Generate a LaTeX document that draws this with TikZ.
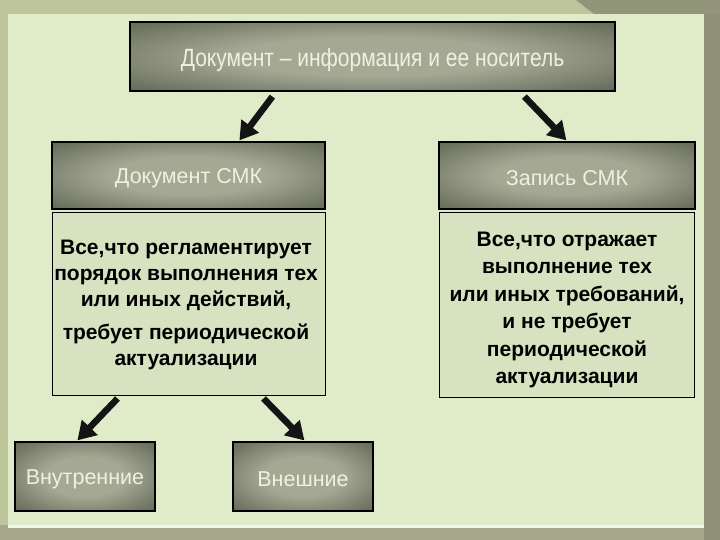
\documentclass[tikz,border=0pt]{standalone}
\usepackage{fontspec}
\setmainfont{Liberation Sans}
\usetikzlibrary{arrows.meta,calc}
\definecolor{panel}{HTML}{DFEBC9}
\definecolor{framekhaki}{HTML}{BEC59A}
\definecolor{framebottom}{HTML}{A6A78B}
\definecolor{frameright}{HTML}{8E9078}
\definecolor{boxin}{HTML}{A5A994}
\definecolor{boxmid}{HTML}{6E7361}
\definecolor{boxout}{HTML}{3F4438}
\definecolor{boxtext}{HTML}{EEF1E2}
\definecolor{textfill}{HTML}{D7E2C1}
\pgfdeclareradialshading{boxshade}{\pgfpoint{0bp}{0bp}}{color(0bp)=(boxin); color(14bp)=(boxin); color(32bp)=(boxmid); color(50bp)=(boxout); color(60bp)=(boxout)}
\tikzset{
  darkbox/.style={draw=black, line width=1.2pt, shading=boxshade,
    text=boxtext, inner sep=0pt, font=\fontsize{21.5}{24}\selectfont},
  boxlabel/.style={text=boxtext, inner sep=0pt, font=\fontsize{21.5}{24}\selectfont},
  textbox/.style={draw=black, line width=1pt, fill=textfill, inner sep=0pt},
  bodytext/.style={align=center, font=\bfseries\fontsize{21}{26}\selectfont, text=black, inner sep=0pt},
  bigarrow/.style={draw=black!92, line width=6.5pt, -{Triangle[length=18pt,width=21pt]}}
}
\begin{document}
\begin{tikzpicture}[x=1pt,y=-1pt]
\useasboundingbox (0,0) rectangle (720,540);
% frame
\fill[framekhaki] (0,0) rectangle (720,540);
\fill[framebottom] (0,525) rectangle (720,540);
\fill[frameright] (704,10) rectangle (720,540);
\fill[frameright!90!framekhaki] (576,0) -- (720,0) -- (720,14) -- (594,14) -- cycle;
\fill[panel] (8,14) rectangle (704,525);
\fill[white!60!panel] (8,525) rectangle (704,528);
% boxes
\node[darkbox, minimum width=485pt, minimum height=69pt] (top) at (372.5,56.5) {};
\node[boxlabel] (toplbl) at (372.5,60)
  {\scalebox{0.84}[1]{\fontsize{25}{28}\selectfont Документ -- информация и ее носитель}};
\node[darkbox, minimum width=273pt, minimum height=67pt] (doc) at (188.5,175.5) {};
\node[boxlabel] (doclbl) at (188.5,178.5) {Документ СМК};
\node[darkbox, minimum width=256pt, minimum height=67pt] (rec) at (567,175.5) {};
\node[boxlabel] (reclbl) at (567,178.5) {Запись СМК};
\node[textbox, minimum width=273pt, minimum height=182pt] (doct) at (188.5,304) {};
\node[textbox, minimum width=255pt, minimum height=184pt] (rect) at (567,305) {};
\node[bodytext] (doctxt) at (186,305) {Все,что регламентирует\\порядок выполнения тех\\или иных действий,\\[7pt]требует периодической\\актуализации};
\node[bodytext, font=\bfseries\fontsize{21}{27.5}\selectfont] (rectxt) at (567,310) {Все,что отражает\\выполнение тех\\или иных требований,\\и не требует\\периодической\\актуализации};
\node[darkbox, minimum width=140pt, minimum height=69pt] (inn) at (85,476.5) {};
\node[boxlabel] (innlbl) at (85,479.5) {Внутренние};
\node[darkbox, minimum width=140pt, minimum height=69pt] (ext) at (303,476.5) {};
\node[boxlabel] (extlbl) at (303,479.5) {Внешние};
% arrows
\draw[bigarrow] ($(top.south west)+(143,5)$) -- ($(doc.north west)+(188,-1)$);
\draw[bigarrow] ($(top.south west)+(395,5)$) -- ($(rec.north west)+(128,-1)$);
\draw[bigarrow] ($(doct.south west)+(66,3)$) -- ($(inn.north west)+(63,-1)$);
\draw[bigarrow] ($(doct.south west)+(212,3)$) -- ($(ext.north west)+(72,-1)$);
\end{tikzpicture}
\end{document}
